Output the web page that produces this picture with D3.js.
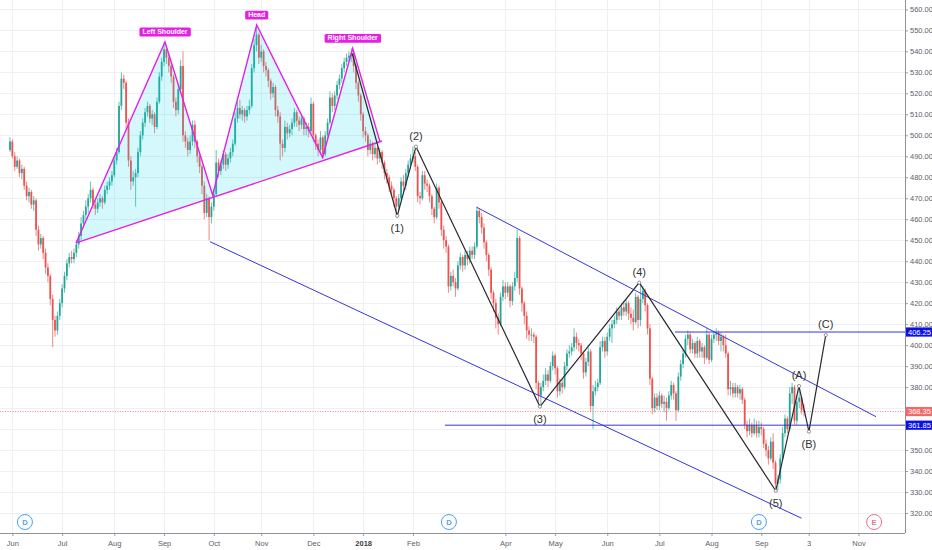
<!DOCTYPE html>
<html lang="en">
<head>
<meta charset="UTF-8" />
<title>Head and Shoulders / Waves</title>
<script src="https://d3js.org/d3.v7.min.js"></script>
<style>
  body { margin: 0; background: #fff; }
  svg text { font-family: "Liberation Sans", Arial, sans-serif; }
</style>
</head>
<body>
<svg id="chart" width="932" height="550"></svg>
<script>
// daily candles, open = previous close
var firstOpen = 493;
var closes = [
  497,490,485,488,482,484,476,471,473,467, 469,455,448,451,444,437,433,422,412,407,
  414,420,427,433,439,442,441,444,448,452, 458,462,466,470,474,467,465,468,470,468,
  474,476,478,481,488,492,514,527,525,506, 488,478,480,482,492,500,506,511,514,508,
  510,504,516,528,535,541,537,533,528,516, 512,522,533,500,497,493,497,505,497,490,
  485,476,463,470,461,466,472,487,483,486, 491,486,489,492,496,508,513,510,512,509,
  512,514,532,543,548,537,540,533,531,526, 520,523,512,509,496,494,504,501,503,506,
  511,507,505,508,503,504,502,515,500,496, 493,499,491,500,506,518,514,519,524,527,
  532,535,537,538,539,533,525,519,510,502, 500,493,496,491,494,489,492,487,482,480,
  476,474,470,466,470,478,476,482,486,489, 490,485,471,470,481,477,476,471,465,461,
  475,468,455,450,447,428,433,430,427,438, 442,438,443,441,445,443,447,464,461,456,
  449,443,436,425,420,413,410,423,428,425, 428,421,428,432,451,427,420,414,407,405,
  405,404,382,376,380,383,386,383,390,395, 389,378,382,380,390,396,397,399,404,401,
  400,396,387,392,397,371,378,380,382,399, 402,397,404,408,410,412,416,414,418,416,
  420,415,413,411,423,412,422,426,419,408, 384,370,375,371,376,372,373,370,376,381,
  377,369,385,391,396,403,405,398,401,396, 402,397,399,394,405,393,403,405,406,402,
  404,400,396,379,380,377,380,377,379,374, 362,359,362,358,362,358,361,360,353,350,
  346,354,344,334,336,346,358,365,360,377, 380,364,373,375,369,368.35
];
var highs = [
  499,498,492,490,489,486,485,478,475,474, 471,470,457,453,452,446,439,434,424,414,
  416,422,429,435,441,444,445,446,450,454, 461,464,469,472,478,475,469,470,472,471,
  476,478,480,483,490,494,516,530,529,526, 508,490,483,484,494,502,508,513,516,515,
  512,511,518,530,537,544.5,543,539,535,529, 518,524,536,540,502,499,500,507,507,498,
  492,486,478,472,471,468,474,493,489,488, 493,492,491,494,498,511,516,517,514,513,
  514,517,534,546,552.6,549,543,541,535,532, 527,525,524,514,511,498,507,506,505,508,
  513,512,509,510,509,506,506,518,516,501, 498,502,500,502,508,521,520,521,526,529,
  534,537,539,540,541.5,540,534,526,520,511, 504,501,498,497,496,495,494,493,488,484,
  481,478,475,471,472,480,481,484,488,491, 494.6,492,486,473,483,483,479,477,472,466,
  477,476,469,457,452,448,435,436,432,440, 444,443,445,445,447,447,449,466,465,463,
  458,450,444,437,426,422,415,425,431,430, 430,429,430,435,455,452,428,421,416,409,
  408,406,405,383,382,386,389,388,392,397, 396,390,384,384,392,398,400,401,408,406,
  403,401,397,394,399,398,381,383,384,402, 404,404,406,410,412,414,418,417,420,421,
  422,421,418,417,425,424,429,428,427,420, 410,385,377,377,378,377,376,375,378,383,
  382,378,387,393,398,405,407,406,403,402, 404,403,401,400,408,406,405,407,408,407,
  406,405,405,397,383,382,382,381,381,380, 375,364,365,363,365,364,364,363,361,355,
  352,356,358,345,338,348,361,367,366,380, 382,381,376,379,376,372
];
var lows = [
  492,489,483,484,480,479,474,469,468,465, 464,452,445,446,441,434,430,419,399,404,
  405,412,418,425,431,437,439,439,442,446, 450,456,460,463,468,465,462,463,466,465,
  467,472,474,476,480,486,491,512,522,503, 485,474,476,466,480,490,498,504,509,506,
  505,501,503,515,526,533,534,530,525,513, 509,510,520,497,494,490,491,495,494,487,
  482,472,460,461,450,458,464,471,480,481, 484,483,484,487,490,495,506,508,507,506,
  507,510,513,530,540,534,535,530,528,523, 517,518,509,506,488,490,492,498,499,500,
  504,504,502,503,500,500,499,501,497,493, 490,491,489,490,498,505,511,512,517,522,
  525,530,533,535,535,530,522,516,507,499, 497,490,491,488,489,486,487,484,479,477,
  473,471,466,462,464,469,473,474,480,484, 487,483,468,467,469,474,473,468,462,458,
  460,465,452,446,444,425,426,428,423,426, 436,435,436,438,439,441,441,446,458,453,
  446,440,433,422,416,408,405,409,421,422, 423,418,419,426,430,424,416,410,403,402,
  402,401,379,373,371,378,381,380,382,388, 386,375,376,377,379,388,394,395,397,398,
  397,393,384,385,390,368,360,376,378,381, 397,394,395,402,401,408,410,412,412,414,
  414,412,410,407,410,408,409,420,416,405, 381,367,368,369,369,370,368,364,369,374,
  374,364,368,383,389,394,400,396,396,394, 394,394,394,391,393,391,392,401,402,400,
  397,397,394,376,376,375,375,375,374,372, 360,356,357,356,357,356,356,357,351,347,
  343,345,341,332,330.6,334,345,356,358,359, 372,362,362,370,367,366
];

// time axis: bar index of each month label
var monthIdx = [1, 22, 44, 65, 86, 106, 128, 149, 170, 209, 230, 252, 274, 296, 317, 337, 358];
var monthLabels = ["Jun","Jul","Aug","Sep","Oct","Nov","Dec","2018","Feb","Apr","May","Jun","Jul","Aug","Sep","3","Nov"];
var priceTicks = d3.range(320, 561, 10);

// head and shoulders drawing: [bar index, price]
var hsPoints = [[27.9, 448.7], [65.4, 544.5], [85.5, 471.6], [104.1, 552.6], [131.9, 489.4], [144.6, 541.5], [156.1, 497]];
var hsLabels = [["Left Shoulder", 65.4, 544.5], ["Head", 104.1, 552.6], ["Right Shoulder", 144.6, 541.5]];

// wave count
var wavePoints = [[144.4, 539], [163.4, 461.6], [171.3, 494.6], [223.6, 370.7], [265.5, 429.8], [323.1, 330.6], [332.9, 380.5], [337.1, 358.8], [344.2, 404.8]];
var waveLabels = ["", "(1)", "(2)", "(3)", "(4)", "(5)", "(A)", "(B)", "(C)"];
var waveBelow = [false, true, false, true, false, true, false, true, false];

// blue trend lines and levels
var channelLines = [[[196.9, 465.7], [365.4, 365.9]], [[84.4, 449.3], [334, 317.5]]];
var levels = [[183.5, 361.85], [280.6, 406.25]];
var lastPrice = 368.35;

// event markers under the bars
var markers = [[6.3, "D"], [185.2, "D"], [316, "D"], [364.6, "E"]];

var svg = d3.select("#chart");
var axisX = 905, axisY = 533;

var x = d3.scaleLinear().domain([0, 335]).range([10, 803.95]);
var y = d3.scaleLinear().domain([320, 560]).range([513, 9.4]);

var up = "#26a69a", down = "#ef5350", magenta = "#e61ee6", blue = "#3535dc";

// grid
var grid = svg.append("g");
grid.selectAll(".hg").data(priceTicks).enter().append("line")
  .attr("x1", 0).attr("x2", axisX)
  .attr("y1", function(d){ return Math.round(y(d)) + 0.5; })
  .attr("y2", function(d){ return Math.round(y(d)) + 0.5; })
  .attr("stroke", "#eef0f5");
grid.selectAll(".vg").data(monthIdx).enter().append("line")
  .attr("y1", 0).attr("y2", axisY)
  .attr("x1", function(d){ return Math.round(x(d)) + 0.5; })
  .attr("x2", function(d){ return Math.round(x(d)) + 0.5; })
  .attr("stroke", "#eef0f5");

// candles
var bars = closes.map(function(c, i){
  return { i: i, o: i === 0 ? firstOpen : closes[i - 1], c: c, h: highs[i], l: lows[i] };
});
var cg = svg.append("g");
cg.selectAll(".wick").data(bars).enter().append("line")
  .attr("x1", function(d){ return x(d.i); })
  .attr("x2", function(d){ return x(d.i); })
  .attr("y1", function(d){ return y(d.h); })
  .attr("y2", function(d){ return y(d.l); })
  .attr("stroke", function(d){ return d.c >= d.o ? up : down; })
  .attr("stroke-width", 0.7);
cg.selectAll(".body").data(bars).enter().append("rect")
  .attr("x", function(d){ return x(d.i) - 0.9; })
  .attr("width", 1.8)
  .attr("y", function(d){ return y(Math.max(d.o, d.c)); })
  .attr("height", function(d){ return Math.max(0.8, Math.abs(y(d.o) - y(d.c))); })
  .attr("fill", function(d){ return d.c >= d.o ? up : down; });

// last price dotted line
svg.append("line")
  .attr("x1", 0).attr("x2", axisX)
  .attr("y1", y(lastPrice)).attr("y2", y(lastPrice))
  .attr("stroke", "#f08a8a").attr("stroke-dasharray", "1,1.5");

// head and shoulders fill and lines
var pt = function(p){ return [x(p[0]), y(p[1])]; };
svg.append("path")
  .attr("d", d3.line()(hsPoints.map(pt)) + "Z")
  .attr("fill", "#00d8e8").attr("fill-opacity", 0.17);
svg.append("path")
  .attr("d", d3.line()(hsPoints.map(pt)))
  .attr("fill", "none").attr("stroke", magenta).attr("stroke-width", 1.4);
svg.append("line")
  .attr("x1", x(hsPoints[0][0])).attr("y1", y(hsPoints[0][1]))
  .attr("x2", x(hsPoints[6][0]) + 2).attr("y2", y(hsPoints[6][1] + 0.3))
  .attr("stroke", magenta).attr("stroke-width", 1.4);

hsLabels.forEach(function(l){
  var g = svg.append("g");
  var t = g.append("text")
    .attr("x", x(l[1])).attr("y", y(l[2]) - 8.2)
    .attr("text-anchor", "middle")
    .attr("font-size", 7).attr("font-weight", "bold")
    .attr("fill", "#fff").text(l[0]);
  var bb = t.node().getBBox();
  g.insert("rect", "text")
    .attr("x", bb.x - 3).attr("width", bb.width + 6)
    .attr("y", y(l[2]) - 14.3).attr("height", 8.8)
    .attr("rx", 1.5).attr("fill", magenta);
});

// blue lines
channelLines.forEach(function(c){
  svg.append("line")
    .attr("x1", x(c[0][0])).attr("y1", y(c[0][1]))
    .attr("x2", x(c[1][0])).attr("y2", y(c[1][1]))
    .attr("stroke", blue).attr("stroke-width", 1);
});
levels.forEach(function(lv){
  svg.append("line")
    .attr("x1", x(lv[0])).attr("x2", axisX)
    .attr("y1", y(lv[1])).attr("y2", y(lv[1]))
    .attr("stroke", blue).attr("stroke-width", 1);
});

// wave count
svg.append("path")
  .attr("d", d3.line()(wavePoints.map(pt)))
  .attr("fill", "none").attr("stroke", "#2a2a2e").attr("stroke-width", 1.2);
svg.selectAll(".wp").data(wavePoints.slice(1)).enter().append("circle")
  .attr("cx", function(d){ return x(d[0]); })
  .attr("cy", function(d){ return y(d[1]); })
  .attr("r", 1.6).attr("fill", "#fff").attr("stroke", "#666").attr("stroke-width", 0.7);
wavePoints.forEach(function(p, i){
  if (!waveLabels[i]) return;
  svg.append("text")
    .attr("x", x(p[0])).attr("y", y(p[1]) + (waveBelow[i] ? 12.5 : -11))
    .attr("dy", "0.36em").attr("text-anchor", "middle")
    .attr("font-size", 11).attr("fill", "#333")
    .text(waveLabels[i]);
});

// markers
markers.forEach(function(m){
  var col = m[1] === "E" ? "#e57386" : "#4aa3ee";
  svg.append("circle").attr("cx", x(m[0])).attr("cy", 522).attr("r", 7.5)
    .attr("fill", "#fff").attr("stroke", col).attr("stroke-width", 1);
  svg.append("text").attr("x", x(m[0])).attr("y", 522).attr("dy", "0.36em")
    .attr("text-anchor", "middle").attr("font-size", 7.5).attr("font-weight", "bold")
    .attr("fill", col).text(m[1]);
});

// price tags cover the axis labels they sit on
var tags = [[406.25, "#0a10e8"], [lastPrice, "#f06a68"], [361.85, "#0a10e8"]];
var hiddenTicks = priceTicks.filter(function(v){
  return tags.some(function(t){ return Math.abs(y(v) - y(t[0])) < 6; });
});

// axes
var ya = svg.append("g").attr("transform", "translate(" + axisX + ",0)")
  .call(d3.axisRight(y).tickValues(priceTicks).tickFormat(d3.format(".2f")).tickSize(3).tickPadding(2));
var xa = svg.append("g").attr("transform", "translate(0," + axisY + ")")
  .call(d3.axisBottom(x).tickValues(monthIdx).tickFormat(function(d, i){ return monthLabels[i]; }).tickSize(3).tickPadding(5));
[ya, xa].forEach(function(a){
  a.select(".domain").remove();
  a.selectAll(".tick line").attr("stroke", "#9a9da6");
  a.selectAll("text").attr("fill", "#5d606b").attr("font-size", 7.5)
    .attr("font-family", "Liberation Sans, Arial, sans-serif");
});
ya.selectAll(".tick text").filter(function(d){ return hiddenTicks.indexOf(d) >= 0; }).remove();
xa.selectAll("text").filter(function(d, i){ return monthLabels[i] === "2018"; })
  .attr("font-weight", "bold").attr("fill", "#3a3d46");

svg.append("line").attr("x1", axisX + 0.5).attr("x2", axisX + 0.5).attr("y1", 0).attr("y2", axisY)
  .attr("stroke", "#8f929b");
svg.append("line").attr("x1", 0).attr("x2", axisX).attr("y1", axisY + 0.5).attr("y2", axisY + 0.5)
  .attr("stroke", "#8f929b");

tags.forEach(function(t){
  svg.append("rect").attr("x", axisX + 1).attr("y", y(t[0]) - 4.6).attr("width", 26).attr("height", 9.2)
    .attr("fill", t[1]);
  svg.append("text").attr("x", axisX + 3).attr("y", y(t[0])).attr("dy", "0.36em")
    .attr("font-size", 7.5).attr("fill", "#fff").text(d3.format(".2f")(t[0]));
});
</script>
</body>
</html>
